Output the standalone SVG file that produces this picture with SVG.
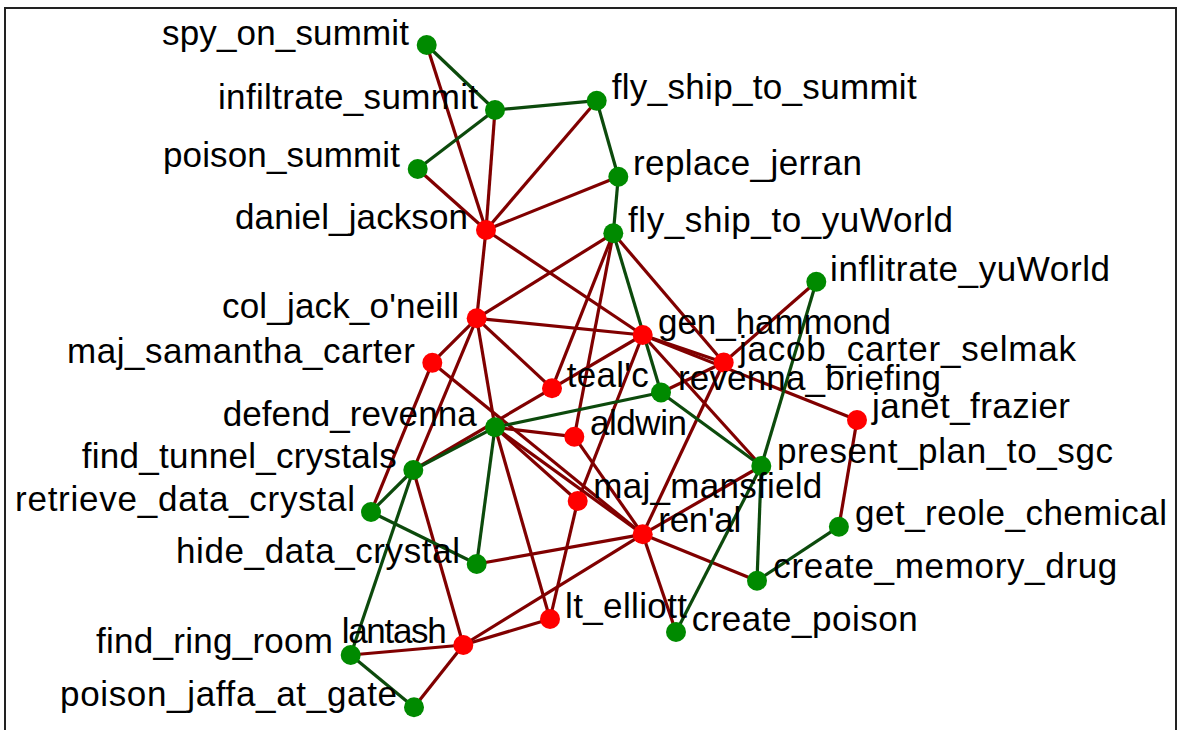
<svg xmlns="http://www.w3.org/2000/svg" width="1179" height="730" viewBox="0 0 1179 730">
<style>
.r{stroke:#800000;stroke-width:3.2;fill:none}
.g{stroke:#0c4a0c;stroke-width:3.2;fill:none}
.nr{fill:#ff0000}
.ng{fill:#008a00}
text{font-family:"Liberation Sans",Arial,sans-serif;font-size:35px;fill:#000}
</style>
<rect x="0" y="0" width="1179" height="730" fill="#ffffff"/>
<path d="M5,730 V8 H1176 V730" fill="none" stroke="#222" stroke-width="2"/>
<g id="edges">
<line class="r" x1="486" y1="230" x2="426.7" y2="45"/>
<line class="r" x1="486" y1="230" x2="495" y2="110"/>
<line class="r" x1="486" y1="230" x2="417.7" y2="169"/>
<line class="r" x1="486" y1="230" x2="596.7" y2="100.7"/>
<line class="r" x1="486" y1="230" x2="618.3" y2="176.7"/>
<line class="r" x1="486" y1="230" x2="476.7" y2="318.3"/>
<line class="r" x1="486" y1="230" x2="642.7" y2="335"/>
<line class="r" x1="476.7" y1="318.3" x2="613.3" y2="233.3"/>
<line class="r" x1="476.7" y1="318.3" x2="642.7" y2="335"/>
<line class="r" x1="476.7" y1="318.3" x2="552" y2="388.3"/>
<line class="r" x1="476.7" y1="318.3" x2="432.3" y2="362.7"/>
<line class="r" x1="476.7" y1="318.3" x2="413.3" y2="470"/>
<line class="r" x1="476.7" y1="318.3" x2="495" y2="427.3"/>
<line class="r" x1="613.3" y1="233.3" x2="723.7" y2="362.5"/>
<line class="r" x1="613.3" y1="233.3" x2="552" y2="388.3"/>
<line class="r" x1="613.3" y1="233.3" x2="574.3" y2="436.7"/>
<line class="r" x1="642.7" y1="335" x2="723.7" y2="362.5"/>
<line class="r" x1="642.7" y1="335" x2="857" y2="420"/>
<line class="r" x1="642.7" y1="335" x2="552" y2="388.3"/>
<line class="r" x1="642.7" y1="335" x2="577.7" y2="501"/>
<line class="r" x1="642.7" y1="335" x2="761.3" y2="466"/>
<line class="r" x1="723.7" y1="362.5" x2="816.3" y2="281.7"/>
<line class="r" x1="723.7" y1="362.5" x2="661" y2="392.5"/>
<line class="r" x1="723.7" y1="362.5" x2="642.7" y2="534.3"/>
<line class="r" x1="432.3" y1="362.7" x2="371" y2="512"/>
<line class="r" x1="432.3" y1="362.7" x2="642.7" y2="534.3"/>
<line class="r" x1="552" y1="388.3" x2="413.3" y2="470"/>
<line class="r" x1="495" y1="427.3" x2="574.3" y2="436.7"/>
<line class="r" x1="495" y1="427.3" x2="577.7" y2="501"/>
<line class="r" x1="495" y1="427.3" x2="642.7" y2="534.3"/>
<line class="r" x1="495" y1="427.3" x2="550" y2="619"/>
<line class="r" x1="574.3" y1="436.7" x2="642.7" y2="534.3"/>
<line class="r" x1="577.7" y1="501" x2="550" y2="619"/>
<line class="r" x1="642.7" y1="534.3" x2="761.3" y2="466"/>
<line class="r" x1="642.7" y1="534.3" x2="757" y2="580.7"/>
<line class="r" x1="642.7" y1="534.3" x2="676" y2="632"/>
<line class="r" x1="642.7" y1="534.3" x2="476.7" y2="564"/>
<line class="r" x1="642.7" y1="534.3" x2="463.3" y2="645"/>
<line class="r" x1="857" y1="420" x2="838.9" y2="526.7"/>
<line class="r" x1="413.3" y1="470" x2="463.3" y2="645"/>
<line class="r" x1="463.3" y1="645" x2="350.7" y2="655"/>
<line class="r" x1="463.3" y1="645" x2="414" y2="707.3"/>
<line class="r" x1="463.3" y1="645" x2="550" y2="619"/>
<line class="g" x1="426.7" y1="45" x2="495" y2="110"/>
<line class="g" x1="495" y1="110" x2="596.7" y2="100.7"/>
<line class="g" x1="495" y1="110" x2="417.7" y2="169"/>
<line class="g" x1="596.7" y1="100.7" x2="618.3" y2="176.7"/>
<line class="g" x1="618.3" y1="176.7" x2="613.3" y2="233.3"/>
<line class="g" x1="613.3" y1="233.3" x2="661" y2="392.5"/>
<line class="g" x1="816.3" y1="281.7" x2="761.3" y2="466"/>
<line class="g" x1="661" y1="392.5" x2="761.3" y2="466"/>
<line class="g" x1="661" y1="392.5" x2="495" y2="427.3"/>
<line class="g" x1="495" y1="427.3" x2="413.3" y2="470"/>
<line class="g" x1="495" y1="427.3" x2="476.7" y2="564"/>
<line class="g" x1="413.3" y1="470" x2="371" y2="512"/>
<line class="g" x1="413.3" y1="470" x2="350.7" y2="655"/>
<line class="g" x1="371" y1="512" x2="476.7" y2="564"/>
<line class="g" x1="350.7" y1="655" x2="414" y2="707.3"/>
<line class="g" x1="761.3" y1="466" x2="757" y2="580.7"/>
<line class="g" x1="761.3" y1="466" x2="676" y2="632"/>
<line class="g" x1="757" y1="580.7" x2="838.9" y2="526.7"/>
</g>
<g id="spy_on_summit"><circle class="ng" cx="426.7" cy="45" r="10"/><text x="162" y="45" textLength="247" lengthAdjust="spacing">spy_on_summit</text></g>
<g id="infiltrate_summit"><circle class="ng" cx="495" cy="110" r="10"/><text x="218" y="109" textLength="260" lengthAdjust="spacing">infiltrate_summit</text></g>
<g id="fly_ship_to_summit"><circle class="ng" cx="596.7" cy="100.7" r="10"/><text x="611.7" y="99" textLength="305" lengthAdjust="spacing">fly_ship_to_summit</text></g>
<g id="poison_summit"><circle class="ng" cx="417.7" cy="169" r="10"/><text x="163" y="167" textLength="237" lengthAdjust="spacing">poison_summit</text></g>
<g id="replace_jerran"><circle class="ng" cx="618.3" cy="176.7" r="10"/><text x="633" y="175" textLength="229" lengthAdjust="spacing">replace_jerran</text></g>
<g id="daniel_jackson"><circle class="nr" cx="486" cy="230" r="10"/><text x="235" y="229" textLength="233" lengthAdjust="spacing">daniel_jackson</text></g>
<g id="fly_ship_to_yuWorld"><circle class="ng" cx="613.3" cy="233.3" r="10"/><text x="628" y="232" textLength="325" lengthAdjust="spacing">fly_ship_to_yuWorld</text></g>
<g id="inflitrate_yuWorld"><circle class="ng" cx="816.3" cy="281.7" r="10"/><text x="830" y="281" textLength="280" lengthAdjust="spacing">inflitrate_yuWorld</text></g>
<g id="col_jack_oneill"><circle class="nr" cx="476.7" cy="318.3" r="10"/><text x="222" y="318" textLength="237" lengthAdjust="spacing">col_jack_o'neill</text></g>
<g id="gen_hammond"><circle class="nr" cx="642.7" cy="335" r="10"/><text x="658" y="334" textLength="233" lengthAdjust="spacing">gen_hammond</text></g>
<g id="jacob_carter_selmak"><circle class="nr" cx="723.7" cy="362.5" r="10"/><text x="739" y="361" textLength="337" lengthAdjust="spacing">jacob_carter_selmak</text></g>
<g id="maj_samantha_carter"><circle class="nr" cx="432.3" cy="362.7" r="10"/><text x="67" y="362.5" textLength="348" lengthAdjust="spacing">maj_samantha_carter</text></g>
<g id="tealc"><circle class="nr" cx="552" cy="388.3" r="10"/><text x="566.7" y="387" textLength="82" lengthAdjust="spacing">teal'c</text></g>
<g id="revenna_briefing"><circle class="ng" cx="661" cy="392.5" r="10"/><text x="678" y="390" textLength="263" lengthAdjust="spacing">revenna_briefing</text></g>
<g id="defend_revenna"><circle class="ng" cx="495" cy="427.3" r="10"/><text x="222.7" y="426" textLength="254" lengthAdjust="spacing">defend_revenna</text></g>
<g id="aldwin"><circle class="nr" cx="574.3" cy="436.7" r="10"/><text x="590" y="434.5" textLength="97" lengthAdjust="spacing">aldwin</text></g>
<g id="janet_frazier"><circle class="nr" cx="857" cy="420" r="10"/><text x="872" y="418" textLength="198" lengthAdjust="spacing">janet_frazier</text></g>
<g id="find_tunnel_crystals"><circle class="ng" cx="413.3" cy="470" r="10"/><text x="81.7" y="468" textLength="315" lengthAdjust="spacing">find_tunnel_crystals</text></g>
<g id="present_plan_to_sgc"><circle class="ng" cx="761.3" cy="466" r="10"/><text x="777" y="463" textLength="336" lengthAdjust="spacing">present_plan_to_sgc</text></g>
<g id="maj_mansfield"><circle class="nr" cx="577.7" cy="501" r="10"/><text x="593.3" y="498" textLength="229" lengthAdjust="spacing">maj_mansfield</text></g>
<g id="retrieve_data_crystal"><circle class="ng" cx="371" cy="512" r="10"/><text x="15" y="511" textLength="340" lengthAdjust="spacing">retrieve_data_crystal</text></g>
<g id="renal"><circle class="nr" cx="642.7" cy="534.3" r="10"/><text x="658.3" y="532" textLength="83" lengthAdjust="spacing">ren'al</text></g>
<g id="get_reole_chemical"><circle class="ng" cx="838.9" cy="526.7" r="10"/><text x="855" y="525" textLength="312" lengthAdjust="spacing">get_reole_chemical</text></g>
<g id="hide_data_crystal"><circle class="ng" cx="476.7" cy="564" r="10"/><text x="176" y="563" textLength="284" lengthAdjust="spacing">hide_data_crystal</text></g>
<g id="create_memory_drug"><circle class="ng" cx="757" cy="580.7" r="10"/><text x="773.3" y="578" textLength="344" lengthAdjust="spacing">create_memory_drug</text></g>
<g id="lt_elliott"><circle class="nr" cx="550" cy="619" r="10"/><text x="565" y="618" textLength="122" lengthAdjust="spacing">lt_elliott</text></g>
<g id="create_poison"><circle class="ng" cx="676" cy="632" r="10"/><text x="691.7" y="631" textLength="226" lengthAdjust="spacing">create_poison</text></g>
<g id="lantash"><circle class="nr" cx="463.3" cy="645" r="10"/><text x="341.7" y="643" textLength="105" lengthAdjust="spacing">lantash</text></g>
<g id="find_ring_room"><circle class="ng" cx="350.7" cy="655" r="10"/><text x="96" y="653" textLength="237" lengthAdjust="spacing">find_ring_room</text></g>
<g id="poison_jaffa_at_gate"><circle class="ng" cx="414" cy="707.3" r="10"/><text x="60" y="706" textLength="337" lengthAdjust="spacing">poison_jaffa_at_gate</text></g>
</svg>
